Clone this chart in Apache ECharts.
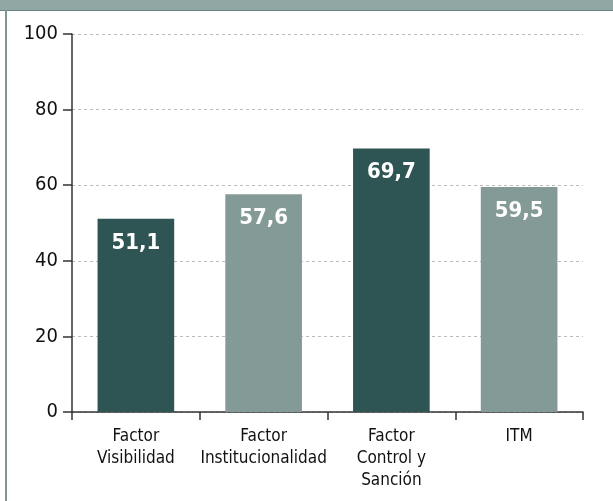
<!DOCTYPE html>
<html>
<head>
<meta charset="utf-8">
<script src="https://cdn.jsdelivr.net/npm/echarts@6/dist/echarts.min.js"></script>
<style>
  html, body { margin: 0; padding: 0; background: #fff; }
  #wrap { position: relative; width: 613px; height: 501px; overflow: hidden; }
  #band { position: absolute; left: 0; top: 0; width: 613px; height: 10px; background: #91a7a3; border-bottom: 1px solid #6a8581; }
  #edge { position: absolute; left: 5px; top: 10px; width: 2px; height: 491px; background: #7d9894; }
  #chart { position: absolute; left: 0; top: 0; width: 613px; height: 501px; }
</style>
</head>
<body>
<div id="wrap">
  <div id="chart"></div>
  <div id="band"></div>
  <div id="edge"></div>
</div>
<script>
const categories = ['Factor\nVisibilidad', 'Factor\nInstitucionalidad', 'Factor\nControl y\nSanción', 'ITM'];
const values = [51.1, 57.6, 69.7, 59.5];
const barColors = ['#2e5553', '#849a96', '#2e5553', '#849a96'];
const yTicks = [0, 20, 40, 60, 80, 100];

const font = "'DejaVu Sans Condensed', 'Liberation Sans', sans-serif";

const chart = echarts.init(document.getElementById('chart'));
chart.setOption({
  animation: false,
  grid: { left: 72, right: 30, top: 34, bottom: 89, containLabel: false },
  xAxis: {
    type: 'category',
    data: categories,
    axisLine: { lineStyle: { color: '#333', width: 1.5 } },
    axisTick: { show: true, length: 8, alignWithLabel: false, lineStyle: { color: '#333', width: 1.5 } },
    axisLabel: { fontFamily: font, fontSize: 17, color: '#111', lineHeight: 22, margin: 14, interval: 0 }
  },
  yAxis: {
    type: 'value',
    min: yTicks[0],
    max: yTicks[yTicks.length - 1],
    interval: 20,
    axisLine: { show: true, lineStyle: { color: '#333', width: 1.5 } },
    axisTick: { show: true, length: 9, lineStyle: { color: '#333', width: 1.5 } },
    axisLabel: { fontFamily: font, fontSize: 20, color: '#111', margin: 14 },
    splitLine: { show: true, lineStyle: { color: '#bcbcbc', type: [3, 3], width: 1 } }
  },
  series: [{
    type: 'bar',
    barWidth: '60%',
    data: values.map((v, i) => ({ value: v, itemStyle: { color: barColors[i] } })),
    label: {
      show: true,
      position: 'insideTop',
      distance: 13,
      color: '#fff',
      fontFamily: font,
      fontWeight: 'bold',
      fontSize: 22,
      formatter: p => p.value.toFixed(1).replace('.', ',')
    }
  }]
});
</script>
</body>
</html>
